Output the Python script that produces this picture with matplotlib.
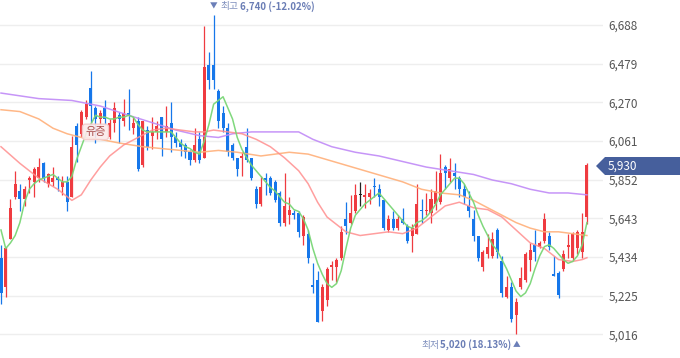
import matplotlib
matplotlib.use("Agg")
import matplotlib.pyplot as plt
from matplotlib.patches import Polygon

plt.rcParams['font.family'] = ['Noto Sans CJK KR', 'DejaVu Sans']

# daily candles (open, high, low, close), oldest first
opens = [5430, 5270, 5530, 5760, 5790, 5750, 5850, 5840, 5860, 5940,
         5830, 5840, 5860, 5810, 5840, 5760, 6140, 6100, 6190, 6350,
         6240, 6180, 6240, 6080, 6160, 6200, 6170, 6210, 6130, 6170,
         5930, 6120, 6090, 6110, 6190, 6110, 6160, 6080, 6050, 6040,
         6000, 5960, 6070, 5970, 6470, 6470, 6330, 6210, 6130, 6040,
         5970, 5970, 6030, 5970, 5800, 5720, 5860, 5860, 5840, 5780,
         5620, 5660, 5670, 5670, 5550, 5560, 5280, 5310, 5140, 5200,
         5380, 5380, 5430, 5640, 5620, 5680, 5770, 5760, 5760, 5820,
         5800, 5740, 5580, 5640, 5590, 5640, 5600, 5550, 5560, 5690,
         5680, 5670, 5720, 5730, 5920, 5860, 5890, 5860, 5800, 5710,
         5640, 5550, 5380, 5450, 5440, 5580, 5410, 5220, 5270, 5120,
         5270, 5310, 5420, 5500, 5490, 5520, 5550, 5340, 5350, 5370,
         5490, 5430, 5480, 5460, 5650]
highs = [5500, 5490, 5750, 5900, 5830, 5820, 5870, 5920, 5970, 5950,
         5890, 5920, 5870, 5870, 5870, 6090, 6160, 6230, 6280, 6440,
         6250, 6230, 6280, 6180, 6270, 6220, 6290, 6340, 6190, 6190,
         6170, 6140, 6190, 6170, 6190, 6250, 6270, 6110, 6070, 6050,
         6010, 6130, 6110, 6680, 6540, 6740, 6340, 6250, 6160, 6050,
         5970, 6000, 6130, 5970, 5820, 5870, 5890, 5870, 5850, 5790,
         5890, 5760, 5690, 5680, 5660, 5580, 5400, 5360, 5290, 5380,
         5410, 5430, 5600, 5730, 5770, 5830, 5840, 5830, 5800, 5860,
         5830, 5750, 5660, 5680, 5660, 5700, 5610, 5610, 5830, 5750,
         5780, 5800, 5900, 5990, 5930, 5970, 5940, 5870, 5830, 5790,
         5690, 5550, 5470, 5560, 5570, 5590, 5440, 5330, 5300, 5210,
         5380, 5460, 5510, 5580, 5520, 5670, 5570, 5440, 5360, 5470,
         5560, 5570, 5580, 5670, 5940]
lows = [5180, 5220, 5530, 5750, 5680, 5710, 5780, 5760, 5840, 5840,
        5810, 5820, 5790, 5770, 5680, 5760, 5950, 6080, 6180, 6150,
        6050, 6150, 6150, 6070, 6110, 6050, 6140, 6120, 6100, 5900,
        5920, 6010, 6020, 6070, 5980, 6080, 6000, 6030, 5980, 5970,
        5930, 5950, 5940, 5970, 6340, 6340, 6130, 6110, 5980, 5960,
        5870, 5870, 5950, 5850, 5700, 5710, 5770, 5770, 5730, 5600,
        5600, 5610, 5640, 5540, 5500, 5400, 5240, 5080, 5090, 5170,
        5310, 5300, 5420, 5560, 5610, 5670, 5710, 5700, 5720, 5760,
        5710, 5580, 5570, 5580, 5580, 5610, 5510, 5460, 5560, 5620,
        5660, 5620, 5690, 5720, 5800, 5840, 5800, 5760, 5720, 5650,
        5520, 5410, 5360, 5430, 5430, 5430, 5220, 5210, 5080, 5020,
        5260, 5300, 5360, 5410, 5480, 5510, 5470, 5330, 5210, 5360,
        5430, 5420, 5450, 5430, 5610]
closes = [5240, 5480, 5700, 5830, 5750, 5800, 5860, 5910, 5920, 5860,
          5880, 5860, 5850, 5840, 5730, 6030, 6040, 6220, 6260, 6250,
          6180, 6210, 6180, 6160, 6240, 6180, 6210, 6200, 6160, 5910,
          6170, 6030, 6110, 6140, 6070, 6140, 6080, 6050, 6030, 6000,
          5960, 6040, 5960, 6460, 6390, 6390, 6170, 6130, 6000, 5970,
          5910, 5980, 5960, 5860, 5720, 5810, 5850, 5780, 5740, 5620,
          5710, 5690, 5660, 5570, 5650, 5430, 5270, 5080, 5270, 5370,
          5390, 5420, 5570, 5600, 5670, 5770, 5770, 5770, 5780, 5810,
          5760, 5590, 5640, 5590, 5640, 5620, 5520, 5590, 5720, 5680,
          5690, 5750, 5790, 5890, 5890, 5910, 5870, 5800, 5760, 5680,
          5550, 5430, 5460, 5490, 5530, 5460, 5240, 5270, 5100, 5190,
          5320, 5450, 5470, 5460, 5510, 5640, 5490, 5330, 5230, 5450,
          5500, 5560, 5570, 5570, 5930]

# moving averages (candle index, price)
ma5_idx = list(range(125))
ma5_val = [5580, 5480, 5510, 5550, 5620, 5730, 5800, 5830, 5850, 5860,
           5870, 5880, 5860, 5840, 5840, 5870, 5960, 6030, 6100, 6150,
           6200, 6190, 6190, 6180, 6180, 6190, 6190, 6200, 6190, 6150,
           6120, 6110, 6110, 6110, 6110, 6110, 6110, 6080, 6050, 6030,
           6020, 6000, 5990, 6060, 6150, 6260, 6280, 6300, 6240, 6180,
           6080, 6015, 5970, 5930, 5900, 5870, 5840, 5810, 5790, 5760,
           5730, 5720, 5690, 5680, 5640, 5580, 5480, 5400, 5340, 5290,
           5270, 5290, 5360, 5480, 5590, 5660, 5690, 5720, 5740, 5760,
           5780, 5750, 5720, 5690, 5660, 5630, 5600, 5590, 5620, 5630,
           5650, 5680, 5720, 5770, 5800, 5830, 5860, 5860, 5830, 5780,
           5730, 5660, 5600, 5550, 5500, 5470, 5420, 5370, 5310, 5250,
           5220, 5240, 5290, 5370, 5440, 5490, 5500, 5480, 5450, 5420,
           5400, 5410, 5440, 5500, 5620]
ma20_idx = [0, 4, 8, 12, 14, 15, 17, 19, 21, 23, 26, 29, 32, 35, 38, 41,
            43, 45, 48, 51, 54, 57, 60, 63, 65, 67, 69, 71, 73, 76, 79, 82,
            85, 88, 91, 94, 97, 100, 103, 106, 109, 112, 115, 118, 121, 123, 124]
ma20_val = [6030, 5940, 5860, 5800, 5760, 5740, 5770, 5850, 5920, 5980,
            6040, 6080, 6120, 6130, 6120, 6110, 6110, 6120, 6110, 6100,
            6070, 6030, 5970, 5900, 5830, 5730, 5650, 5610, 5570, 5550,
            5560, 5570, 5560, 5590, 5650, 5710, 5730, 5700, 5690, 5650,
            5580, 5510, 5480, 5420, 5410, 5420, 5430]
ma60_idx = [0, 4, 8, 11, 14, 17, 21, 25, 30, 34, 38, 42, 46, 50, 55, 58,
            61, 65, 69, 73, 77, 81, 85, 89, 93, 97, 100, 103, 106, 109,
            112, 115, 118, 121, 124]
ma60_val = [6230, 6220, 6180, 6130, 6100, 6080, 6070, 6050, 6030, 6020,
            6010, 6000, 6010, 6000, 5980, 5990, 6000, 5990, 5960, 5930,
            5900, 5870, 5840, 5800, 5780, 5770, 5740, 5700, 5660, 5620,
            5590, 5570, 5570, 5560, 5550]
ma120_idx = [0, 8, 15, 21, 27, 32, 37, 42, 46, 49, 53, 58, 63, 66, 70, 75,
             80, 85, 90, 95, 100, 104, 108, 112, 116, 120, 124]
ma120_val = [6320, 6290, 6280, 6250, 6200, 6160, 6120, 6090, 6080, 6100,
             6110, 6110, 6110, 6070, 6030, 6000, 5980, 5950, 5920, 5900,
             5880, 5850, 5830, 5800, 5780, 5780, 5770]

yticks = [5016, 5225, 5434, 5643, 5852, 6061, 6270, 6479, 6688]
ytick_labels = ["5,016", "5,225", "5,434", "5,643", "5,852", "6,061", "6,270", "6,479", "6,688"]

hi_idx, hi_text = 45, "6,740 (-12.02%)"
lo_idx, lo_text = 109, "5,020 (18.13%)"
last_price = "5,930"
event_idx, event_label = 20, "유증"

RED = "#ef3b40"
BLUE = "#1677ea"

fig = plt.figure(figsize=(6.8, 3.58), dpi=100)
ax = fig.add_axes([0, 0, 603 / 680, 1])

x = list(range(len(opens)))
colors = []
for o, c in zip(opens, closes):
    if c > o:
        colors.append(RED)
    elif c < o:
        colors.append(BLUE)
    else:
        colors.append("#222222")

# wicks then bodies
ax.vlines(x, lows, highs, colors=colors, linewidth=0.9, zorder=2)
bottoms = [min(o, c) for o, c in zip(opens, closes)]
heights = [max(abs(c - o), 5) for o, c in zip(opens, closes)]
ax.bar(x, heights, bottom=bottoms, width=0.64, color=colors, linewidth=0, zorder=3)

# moving averages
ax.plot(ma120_idx, ma120_val, color="#c08af7", lw=1.1, alpha=0.9, zorder=4)
ax.plot(ma60_idx, ma60_val, color="#ffb07a", lw=1.1, alpha=0.9, zorder=4)
ax.plot(ma20_idx, ma20_val, color="#ff8e8e", lw=1.1, alpha=0.85, zorder=4)
ax.plot(ma5_idx, ma5_val, color="#79d676", lw=1.1, alpha=0.95, zorder=4)

ax.set_xlim(-0.21, 127.4)
ax.set_ylim(4888, 6823)
ax.set_yticks(yticks)
ax.set_yticklabels(ytick_labels)
ax.yaxis.tick_right()
ax.tick_params(axis="y", length=0, pad=4, labelsize=8.5, labelcolor="#555555")
ax.set_xticks([])
ax.grid(axis="y", color="#eeeeee", linewidth=1)
ax.set_axisbelow(True)
for s in ax.spines.values():
    s.set_visible(False)

# high / low markers, offsets in pixels from the candle
top_y, bot_y = 6790, 4960
kw = dict(textcoords="offset pixels", va="center", annotation_clip=False)
ax.annotate("▼", (hi_idx, top_y), xytext=(0, 0), color="#6b7fb8", fontsize=5.5, ha="center", **kw)
ax.annotate("최고", (hi_idx, top_y), xytext=(7, 0), color="#7f8fbd", fontsize=7, ha="left", **kw)
ax.annotate(hi_text, (hi_idx, top_y), xytext=(26, 0), color="#6a7db5", fontsize=7,
            fontweight="bold", ha="left", **kw)
ax.annotate("▲", (lo_idx, bot_y), xytext=(1, 0), color="#6b7fb8", fontsize=5.5, ha="center", **kw)
ax.annotate(lo_text, (lo_idx, bot_y), xytext=(-5, 0), color="#6a7db5", fontsize=7,
            fontweight="bold", ha="right", **kw)
ax.annotate("최저", (lo_idx, bot_y), xytext=(-77, 0), color="#7f8fbd", fontsize=7, ha="right", **kw)

# event label
ax.text(event_idx, 6110, event_label, color="#a84d4d", fontsize=8, ha="center", va="center",
        zorder=6, bbox=dict(boxstyle="round,pad=0.25", fc="#fbeaea", ec="#f2cccc", alpha=0.9))

# last price tag
pts = [(596, 166), (605, 157), (680, 157), (680, 175), (605, 175)]
tag = Polygon([(px / 680, 1 - py / 358) for px, py in pts], closed=True,
              transform=fig.transFigure, fc="#465f9c", ec="none")
fig.patches.append(tag)
fig.text(608 / 680, 1 - 166 / 358, last_price, color="white", fontsize=8.5,
         ha="left", va="center")

fig.savefig("out.png", dpi=100)
